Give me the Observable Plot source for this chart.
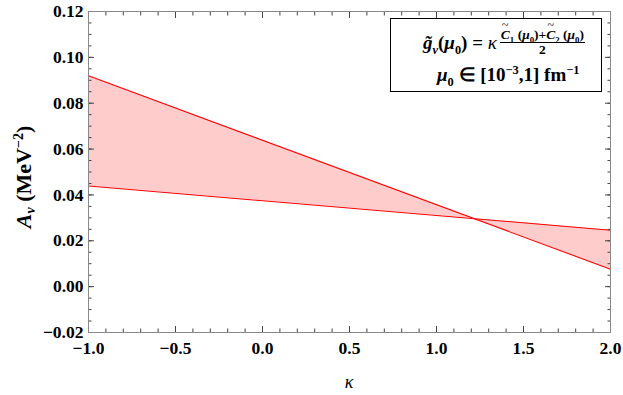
<!DOCTYPE html>
<html><head><meta charset="utf-8">
<script src="https://cdn.jsdelivr.net/npm/d3@7"></script>
<script src="https://cdn.jsdelivr.net/npm/@observablehq/plot@0.6"></script>
<style>
body{margin:0;background:#fff}
#wrap{position:relative;width:623px;height:395px;font-family:"Liberation Serif",serif}
#legend{position:absolute;left:390px;top:18px;width:212px;height:74px;border:1.5px solid #000;background:#fff;box-sizing:border-box;font-weight:bold;color:#000}
.l1{position:absolute;left:32px;top:9px;font-size:19px;white-space:nowrap;display:flex;align-items:center}
.l2{position:absolute;left:46px;top:44px;font-size:19px;white-space:nowrap}
.frac{display:inline-flex;flex-direction:column;align-items:center;font-size:13.5px;margin-left:3px;line-height:1.05}
.num{border-bottom:1px solid #000;padding:0 1px;font-weight:bold}
.den{font-weight:bold}
i{font-style:italic}
sub,sup{font-size:65%;line-height:0}
.tc{position:relative;display:inline-block}
.tc::before{content:"~";position:absolute;left:1px;top:-9px;font-size:12px;font-weight:normal}
</style></head><body>
<div id="wrap"></div>
<script>
const kappa = [-1, 2];
const upper = [0.092, 0.0076];
const lower = [0.0439, 0.0246];
const xTicks = [-1, -0.5, 0, 0.5, 1, 1.5, 2];
const yTicks = [-0.02, 0, 0.02, 0.04, 0.06, 0.08, 0.10, 0.12];
const xMinor = d3.range(-1, 2.0001, 0.1).map(v => +v.toFixed(2));
const yMinor = d3.range(-0.02, 0.12001, 0.005).map(v => +v.toFixed(3));

const band = kappa.map((k, i) => ({k, a: upper[i], b: lower[i]}));

const tickStroke = "#444";
const fmtX = d3.format(".1f"), fmtY = d3.format(".2f");

const chart = Plot.plot({
  width: 623, height: 395,
  marginLeft: 88, marginRight: 13, marginTop: 11, marginBottom: 63,
  x: {domain: [-1, 2], label: null},
  y: {domain: [-0.02, 0.12], label: null},
  style: {fontFamily: "'Liberation Serif', serif", background: "#fff"},
  marks: [
    Plot.areaY(band, {x: "k", y1: "a", y2: "b", fill: "#ffcccc"}),
    Plot.line(band, {x: "k", y: "a", stroke: "#ff0000", strokeWidth: 1.1}),
    Plot.line(band, {x: "k", y: "b", stroke: "#ff0000", strokeWidth: 1.1}),
    // minor ticks
    Plot.axisX(xMinor, {anchor: "bottom", tickSize: -3.5, tickFormat: () => "", stroke: tickStroke, label: null}),
    Plot.axisX(xMinor, {anchor: "top", tickSize: -3.5, tickFormat: () => "", stroke: tickStroke, label: null}),
    Plot.axisY(yMinor, {anchor: "left", tickSize: -3.5, tickFormat: () => "", stroke: tickStroke, label: null}),
    Plot.axisY(yMinor, {anchor: "right", tickSize: -3.5, tickFormat: () => "", stroke: tickStroke, label: null}),
    // major ticks
    Plot.axisX(xTicks, {anchor: "bottom", tickSize: -6, tickFormat: () => "", stroke: tickStroke, label: null}),
    Plot.axisX(xTicks, {anchor: "top", tickSize: -6, tickFormat: () => "", stroke: tickStroke, label: null}),
    Plot.axisY(yTicks, {anchor: "left", tickSize: -6, tickFormat: () => "", stroke: tickStroke, label: null}),
    Plot.axisY(yTicks, {anchor: "right", tickSize: -6, tickFormat: () => "", stroke: tickStroke, label: null}),
    // labels
    Plot.axisX(xTicks, {anchor: "bottom", tickSize: 0, tickPadding: 9, tickFormat: fmtX, fontSize: 17.5, fontWeight: "bold", fill: "#000", label: null}),
    Plot.axisY(yTicks, {anchor: "left", tickSize: 0, tickPadding: 5, tickFormat: fmtY, fontSize: 17.5, fontWeight: "bold", fill: "#000", label: null}),
    Plot.frame({stroke: "#888", strokeWidth: 1})
  ]
});

const svg = d3.select(chart);
// y axis label
const yl = svg.append("text")
  .attr("transform", "translate(31,177) rotate(-90)")
  .attr("text-anchor", "middle")
  .attr("font-family", "'Liberation Serif', serif")
  .attr("font-size", 22).attr("font-weight", "bold").attr("fill", "#000");
yl.append("tspan").attr("font-style", "italic").text("A");
yl.append("tspan").attr("font-style", "italic").attr("font-size", 14).attr("dy", 4).text("ν");
yl.append("tspan").attr("dy", -4).text(" (MeV");
yl.append("tspan").attr("font-size", 14).attr("dy", -8).text("−2");
yl.append("tspan").attr("dy", 8).text(")");
// x axis label
svg.append("text").attr("x", 349).attr("y", 388)
  .attr("text-anchor", "middle").attr("font-family", "'Liberation Serif', serif")
  .attr("font-size", 18).attr("font-style", "italic").attr("fill", "#000").text("κ");

const wrap = document.getElementById("wrap");
wrap.appendChild(chart);
const lg = document.createElement("div");
lg.id = "legend";
lg.innerHTML = `<div class="l1"><span><i>g̃</i><sub><i>ν</i></sub>(<i>μ</i><sub>0</sub>) = <i style="font-weight:normal">κ</i></span><span class="frac"><span class="num"><i class="tc">C</i><sub>1</sub> (<i>μ</i><sub>0</sub>)+<i class="tc">C</i><sub>2</sub> (<i>μ</i><sub>0</sub>)</span><span class="den">2</span></span></div>
<div class="l2"><i>μ</i><sub>0</sub> ∈ [10<sup>−3</sup>,1] fm<sup>−1</sup></div>`;
wrap.appendChild(lg);
</script>
</body></html>
